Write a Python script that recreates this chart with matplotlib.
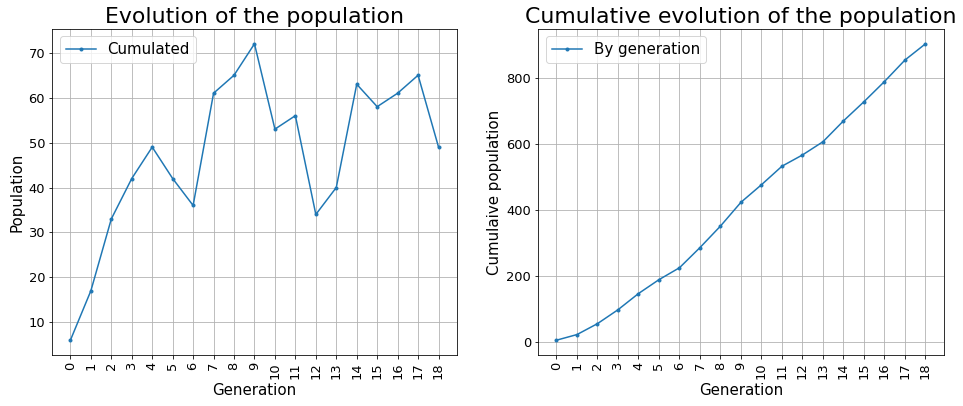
import numpy as np
import matplotlib
matplotlib.use("Agg")
import matplotlib.pyplot as plt

# Data
generations = list(range(19))
population = [6, 17, 33, 42, 49, 42, 36, 61, 65, 72, 53, 56, 34, 40, 63, 58, 61, 65, 49]
cumulative = list(np.cumsum(population))

fig = plt.figure(figsize=(963 / 72, 406 / 72), dpi=72)
ax1 = fig.add_axes([0.054, 0.1256, 0.4205, 0.803])
ax2 = fig.add_axes([0.5587, 0.1256, 0.4215, 0.803])

# Evolution of the population
ax1.plot(generations, population, marker=".", color="#1f77b4", label="Cumulated")
ax1.set_title("Evolution of the population", fontsize=22)
ax1.set_xlabel("Generation", fontsize=15)
ax1.set_ylabel("Population", fontsize=15)
ax1.set_xticks(generations)
ax1.tick_params(axis="x", labelrotation=90, labelsize=13)
ax1.tick_params(axis="y", labelsize=13)
ax1.grid(True)
ax1.legend(loc="upper left", fontsize=15)

# Cumulative evolution
ax2.plot(generations, cumulative, marker=".", color="#1f77b4", label="By generation")
ax2.set_title("Cumulative evolution of the population", fontsize=22)
ax2.set_xlabel("Generation", fontsize=15)
ax2.set_ylabel("Cumulaive population", fontsize=15)
ax2.set_xticks(generations)
ax2.tick_params(axis="x", labelrotation=90, labelsize=13)
ax2.tick_params(axis="y", labelsize=13)
ax2.grid(True)
ax2.legend(loc="upper left", fontsize=15)

fig.savefig("out.png", dpi=72)
